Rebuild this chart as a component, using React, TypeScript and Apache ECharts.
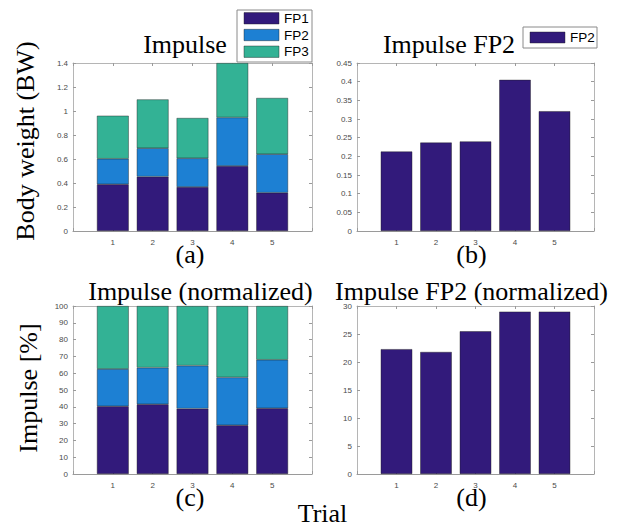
import React, { useEffect, useRef } from "react";
import * as echarts from "echarts";

// ---- data ----
const TRIALS = ["1", "2", "3", "4", "5"];
const X_CATS = ["0", "1", "2", "3", "4", "5", "6"];
const SERIES_NAMES = ["FP1", "FP2", "FP3"];

// (a) Impulse, body weight
const FP1_BW = [0.389, 0.453, 0.367, 0.542, 0.319];
const FP2_BW = [0.213, 0.237, 0.239, 0.404, 0.321];
const FP3_BW = [0.359, 0.407, 0.336, 0.454, 0.469];
// (b) Impulse FP2
const FP2_ONLY = [0.213, 0.237, 0.24, 0.405, 0.321];
// (c) Impulse normalized [%]
const FP1_PCT = [40.3, 41.5, 38.9, 29.0, 39.1];
const FP2_PCT = [22.2, 21.8, 25.6, 28.5, 28.9];
const FP3_PCT = [37.5, 36.7, 35.5, 42.5, 32.0];
// (d) Impulse FP2 normalized [%]
const FP2_NORM = [22.3, 21.8, 25.5, 29.0, 29.0];

// y-axis scales per panel: [max, interval]
const Y_SCALES = [
  [1.4, 0.2],
  [0.45, 0.05],
  [100, 10],
  [30, 5],
];

const TITLES = ["Impulse", "Impulse FP2", "Impulse (normalized)", "Impulse FP2 (normalized)"];
const PANEL_TAGS = ["(a)", "(b)", "(c)", "(d)"];

const COLORS = ["#321a7b", "#1d80d3", "#33b295"];

const GRIDS = [
  { left: 73, top: 63, width: 239, height: 168 },
  { left: 357, top: 63, width: 237, height: 168 },
  { left: 73, top: 306, width: 239, height: 168 },
  { left: 357, top: 306, width: 237, height: 168 },
];

const SERIF = '"Liberation Serif", "Times New Roman", serif';
const SANS = '"Liberation Sans", Arial, sans-serif';

function toPairs(vals: number[]) {
  return vals.map((v, i) => [TRIALS[i], v]);
}

export default function App() {
  const ref = useRef<HTMLDivElement>(null);

  useEffect(() => {
    if (!ref.current) return;
    const chart = echarts.init(ref.current, null, { renderer: "svg" });

    const lineBox = { lineStyle: { color: "#b5b5b5", width: 1 } };
    const tick = { show: true, inside: true, length: 3, lineStyle: { color: "#9a9a9a" } };

    const xAxis: any[] = [];
    const yAxis: any[] = [];
    GRIDS.forEach((_, g) => {
      xAxis.push({
        type: "category",
        gridIndex: g,
        data: X_CATS,
        boundaryGap: false,
        position: "bottom",
        axisLine: { show: true, onZero: false, lineStyle: { color: "#9a9a9a", width: 1 } },
        axisTick: { ...tick, interval: 0 },
        axisLabel: {
          show: true,
          interval: 0,
          margin: 7,
          fontSize: 8,
          lineHeight: 8,
          color: "#4a4a4a",
          fontFamily: SANS,
          formatter: (v: string) => (TRIALS.includes(v) ? v : ""),
        },
        splitLine: { show: false },
      });
      xAxis.push({
        type: "category",
        gridIndex: g,
        data: X_CATS,
        boundaryGap: false,
        position: "top",
        axisLine: { show: true, onZero: false, ...lineBox },
        axisTick: { ...tick, interval: 0 },
        axisLabel: { show: false },
        splitLine: { show: false },
      });
      const [max, interval] = Y_SCALES[g];
      yAxis.push({
        type: "value",
        gridIndex: g,
        min: 0,
        max,
        interval,
        position: "left",
        axisLine: { show: true, onZero: false, ...lineBox },
        axisTick: tick,
        axisLabel: { show: true, margin: 5, fontSize: 8, color: "#4a4a4a", fontFamily: SANS },
        splitLine: { show: false },
      });
      yAxis.push({
        type: "value",
        gridIndex: g,
        min: 0,
        max,
        interval,
        position: "right",
        axisLine: { show: true, onZero: false, ...lineBox },
        axisTick: tick,
        axisLabel: { show: false },
        splitLine: { show: false },
      });
    });

    const barStyle = (c: string) => ({ color: c, borderColor: "rgba(30,30,30,0.7)", borderWidth: 0.6 });

    const series: any[] = [];
    const stackPanel = (g: number, sets: number[][], stack: string) => {
      sets.forEach((vals, k) => {
        series.push({
          type: "bar",
          name: SERIES_NAMES[k],
          xAxisIndex: g * 2,
          yAxisIndex: g * 2,
          stack,
          barWidth: "80%",
          data: toPairs(vals),
          itemStyle: barStyle(COLORS[k]),
          z: 1,
        });
      });
    };
    stackPanel(0, [FP1_BW, FP2_BW, FP3_BW], "a");
    series.push({
      type: "bar",
      name: "FP2",
      xAxisIndex: 2,
      yAxisIndex: 2,
      barWidth: "80%",
      data: toPairs(FP2_ONLY),
      itemStyle: barStyle(COLORS[0]),
      z: 1,
    });
    stackPanel(2, [FP1_PCT, FP2_PCT, FP3_PCT], "c");
    series.push({
      type: "bar",
      name: "FP2",
      xAxisIndex: 6,
      yAxisIndex: 6,
      barWidth: "80%",
      data: toPairs(FP2_NORM),
      itemStyle: barStyle(COLORS[0]),
      z: 1,
    });

    const serifText = (text: string, x: number, y: number, extra: any = {}, lineHeight?: number) => ({
      type: "text",
      x,
      y,
      ...extra,
      style: {
        text,
        fontSize: 26,
        fontFamily: SERIF,
        fill: "#000",
        align: "center",
        verticalAlign: "middle",
        ...(lineHeight ? { lineHeight } : {}),
      },
      z: 10,
    });

    const titlePos = [
      [185, 44.5],
      [449, 44.5],
      [200.5, 291],
      [471.5, 291],
    ];
    const tagPos = [
      [190, 254.5],
      [471.5, 254.5],
      [190, 497.5],
      [471.5, 497.5],
    ];

    const graphic: any[] = [];
    TITLES.forEach((t, i) => graphic.push(serifText(t, titlePos[i][0], titlePos[i][1])));
    PANEL_TAGS.forEach((t, i) => graphic.push(serifText(t, tagPos[i][0], tagPos[i][1], {}, 18)));
    graphic.push(serifText("Trial", 322.5, 513, {}, 22));
    graphic.push(serifText("Body weight (BW)", 25, 141, { rotation: Math.PI / 2 }));
    graphic.push(serifText("Impulse [%]", 28, 388, { rotation: Math.PI / 2 }));

    // legend (a)
    graphic.push({
      type: "rect",
      shape: { x: 237, y: 10, width: 75, height: 52 },
      style: { fill: "#fff", stroke: "#8a8a8a", lineWidth: 1 },
      z: 20,
    });
    SERIES_NAMES.forEach((n, k) => {
      const cy = 18.3 + k * 16.7;
      graphic.push({
        type: "rect",
        shape: { x: 244, y: cy - 5.7, width: 35, height: 11.4 },
        style: { fill: COLORS[k], stroke: "rgba(30,30,30,0.7)", lineWidth: 0.6 },
        z: 21,
      });
      graphic.push({
        type: "text",
        x: 284,
        y: cy,
        style: { text: n, fontSize: 13.5, fontFamily: SANS, fill: "#000", align: "left", verticalAlign: "middle" },
        z: 21,
      });
    });
    // legend (b)
    graphic.push({
      type: "rect",
      shape: { x: 523, y: 27, width: 74, height: 21 },
      style: { fill: "#fff", stroke: "#8a8a8a", lineWidth: 1 },
      z: 20,
    });
    graphic.push({
      type: "rect",
      shape: { x: 530, y: 32, width: 35, height: 11 },
      style: { fill: COLORS[0], stroke: "rgba(30,30,30,0.7)", lineWidth: 0.6 },
      z: 21,
    });
    graphic.push({
      type: "text",
      x: 570,
      y: 37.5,
      style: { text: "FP2", fontSize: 13.5, fontFamily: SANS, fill: "#000", align: "left", verticalAlign: "middle" },
      z: 21,
    });

    chart.setOption({
      animation: false,
      backgroundColor: "#fff",
      grid: GRIDS.map((g) => ({ ...g, containLabel: false })),
      xAxis,
      yAxis,
      series,
      graphic,
    });

    return () => chart.dispose();
  }, []);

  return (
    <div
      ref={ref}
      style={{ position: "fixed", left: 0, top: 0, width: 626, height: 526, background: "#fff" }}
    />
  );
}
